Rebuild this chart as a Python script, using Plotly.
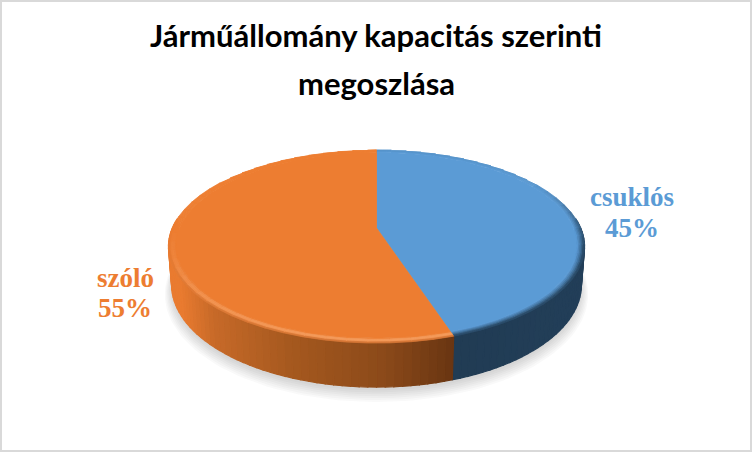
import numpy as np
import plotly.graph_objects as go

# chart data
labels = ['csuklós', 'szóló']
values = [45, 55]
top_colors = ['#5B9BD5', '#ED7D31']
title_lines = ['Járműállomány kapacitás szerinti', 'megoszlása']

# side wall colour stops, left to right on screen
orange_side = [(0.0, '#E97B30'), (0.12, '#C76A29'), (0.4, '#A6591F'), (0.75, '#8B4A1A'), (1.0, '#6A3612')]
blue_side = [(0.0, '#213C54'), (1.0, '#233F59')]

# fake 3D camera
CX, CY, RX, RY, DEPTH, PERSP, SHRINK = 376.5, 228.0, 204.2, 93.0, 38.0, 0.1917, 0.015
RIM = 0.965


def project(theta, r=1.0, z=0.0):
    # theta is clockwise from twelve o'clock
    c = np.sin(theta) * r
    s = -np.cos(theta) * r
    w = 1 - PERSP * s + SHRINK * z
    return CX + RX * c / w, CY + (RY * s + DEPTH * z) / w


def hex_rgb(col):
    return np.array([int(col[i:i + 2], 16) for i in (1, 3, 5)], dtype=float)


def mix(a, b, t):
    t = min(max(t, 0), 1)
    rgb = hex_rgb(a) * (1 - t) + hex_rgb(b) * t
    return '#%02X%02X%02X' % tuple(int(v) for v in rgb)


def ramp(stops, u):
    u = min(max(u, 0), 1)
    for (u0, c0), (u1, c1) in zip(stops[:-1], stops[1:]):
        if u <= u1:
            return mix(c0, c1, (u - u0) / (u1 - u0))
    return stops[-1][1]


def add_poly(fig, x, y, color, width=1.2):
    fig.add_trace(go.Scatter(
        x=x, y=y, mode='lines', fill='toself', fillcolor=color,
        line=dict(color=color if width else 'rgba(0,0,0,0)', width=width),
        hoverinfo='skip', showlegend=False))


def add_label(fig, x, y, text, color):
    fig.add_annotation(x=x, y=y, text=f'<b>{text}</b>', showarrow=False,
                       font=dict(family='Liberation Serif', size=27, color=color))


fig = go.Figure()

# slice angles from the values
fracs = np.array(values) / sum(values)
edges = np.concatenate([[0], np.cumsum(fracs)]) * 2 * np.pi

# soft shadow below the pie
t = np.linspace(0, 2 * np.pi, 181)
for grow in np.linspace(0.0, 0.035, 7):
    x, y = project(t, 1.0 + grow, 1.08 + grow * 4)
    add_poly(fig, x, y, 'rgba(60,60,60,0.03)', width=0)

# side wall, blue then orange
x_left = project(np.radians(278), 1.0, 0.3)[0]
x_join = project(edges[1], 1.0, 0.5)[0]
for i in range(2):
    a = np.arange(edges[i], edges[i + 1] + 1e-6, np.radians(2))
    a = np.append(a, edges[i + 1])
    for a0, a1 in zip(a[:-1], a[1:]):
        if -np.cos((a0 + a1) / 2) < -0.1:
            continue
        xt0, yt0 = project(a0, 1.0, 0.0)
        xt1, yt1 = project(a1, 1.0, 0.0)
        xb1, yb1 = project(a1, 1.0, 1.0)
        xb0, yb0 = project(a0, 1.0, 1.0)
        if i == 1:
            col = ramp(orange_side, ((xt0 + xt1) / 2 - x_left) / (x_join - x_left))
        else:
            col = ramp(blue_side, ((xt0 + xt1) / 2 - x_join) / (CX + RX - x_join))
        add_poly(fig, [xt0, xt1, xb1, xb0, xt0], [yt0, yt1, yb1, yb0, yt0], col)

# rounded rim of the top face
rings = np.linspace(RIM, 1.0, 6)
for i in range(2):
    a = np.arange(edges[i], edges[i + 1], np.radians(5))
    a = np.append(a, edges[i + 1])
    for a0, a1 in zip(a[:-1], a[1:]):
        mid = (a0 + a1) / 2
        s = -np.cos(mid)
        front = max(0.0, s)
        for j, (r0, r1) in enumerate(zip(rings[:-1], rings[1:])):
            tt = (j + 0.5) / (len(rings) - 1)
            if i == 0:
                # dark only towards the right and the front, thin at the back
                weight = min(max((s + 0.5) / 0.7, 0.1), 1)
                col = mix(top_colors[0], '#22405A', tt ** 1.3 * weight)
            else:
                col = mix(top_colors[1], '#F7A468', np.sin(np.pi * tt) * front * 0.8)
                if tt > 0.8:
                    col = mix(col, '#B9632A', 0.45 * front)
            xa, ya = project(np.array([a0, a1]), r0)
            xb, yb = project(np.array([a1, a0]), r1)
            add_poly(fig, [xa[0], xa[1], xb[0], xb[1], xa[0]],
                     [ya[0], ya[1], yb[0], yb[1], ya[0]], col, width=0.8)

# flat top of each slice
for i in range(2):
    a = np.linspace(edges[i], edges[i + 1], 120)
    x, y = project(a, RIM)
    add_poly(fig, np.r_[CX, x, CX], np.r_[CY, y, CY], top_colors[i], width=0.8)

# category labels, separate lines for the tighter spacing
add_label(fig, 632, 197, labels[0], top_colors[0])
add_label(fig, 632, 228, f'{values[0]}%', top_colors[0])
add_label(fig, 125, 278, labels[1], top_colors[1])
add_label(fig, 125, 308, f'{values[1]}%', top_colors[1])

# second title line needs wider spacing than plotly's <br>
fig.add_annotation(x=376, y=83, text=f'<b>{title_lines[1]}</b>', showarrow=False,
                   font=dict(family='Lato', size=31, color='#000000'))

fig.update_layout(
    width=752, height=452,
    margin=dict(l=0, r=0, t=0, b=0),
    paper_bgcolor='white', plot_bgcolor='white',
    title=dict(text=f'<b>{title_lines[0]}</b>', x=0.5, xanchor='center', y=1 - 36 / 452, yanchor='middle',
               font=dict(family='Lato', size=31, color='#000000')),
    xaxis=dict(range=[0, 752], visible=False, fixedrange=True),
    yaxis=dict(range=[452, 0], visible=False, fixedrange=True),
    showlegend=False,
    shapes=[dict(type='rect', xref='paper', yref='paper', x0=0, y0=0, x1=1, y1=1,
                 line=dict(color='#D9D9D9', width=4))],
)

fig.write_html('out.html', config={'displayModeBar': False},
               post_script="document.body.style.margin='0';document.body.style.overflow='hidden';")
